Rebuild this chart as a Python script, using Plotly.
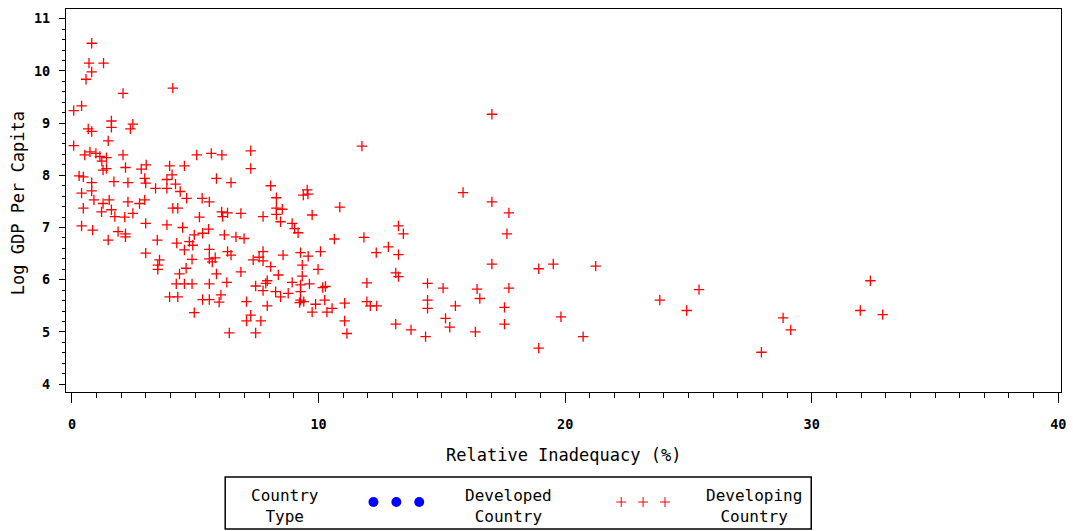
import plotly.graph_objects as go

# ---- data ----
developing_x = [
    0.80, 0.69, 1.28, 0.80, 0.57, 2.07, 4.09, 0.39, 0.07, 1.60,
    2.47, 0.66, 0.80, 1.60, 2.37, 1.47, 0.07, 11.76, 17.03, 0.52,
    0.73, 0.97, 1.13, 1.40, 2.07, 5.06, 5.65, 6.08, 7.25, 1.26,
    1.40, 2.17, 2.81, 3.01, 3.96, 4.56, 7.25, 1.21, 0.29, 0.46,
    0.80, 1.70, 2.27, 2.95, 2.99, 3.39, 3.85, 4.06, 4.20, 4.39,
    4.65, 5.28, 5.57, 5.86, 6.45, 3.85, 0.39, 0.80, 15.86, 8.06,
    8.29, 9.54, 9.38, 9.57, 0.89, 1.26, 1.51, 2.27, 2.74, 2.95,
    0.46, 1.20, 1.60, 1.74, 2.14, 2.47, 4.09, 4.29, 5.17, 6.07,
    6.11, 6.31, 6.85, 17.03, 17.72, 10.86, 7.75, 8.29, 8.53, 8.29,
    8.46, 8.93, 9.03, 9.17, 9.74, 0.39, 0.84, 1.87, 2.17, 2.17,
    2.99, 3.85, 4.49, 5.54, 13.24, 1.47, 3.46, 4.25, 4.76, 4.90,
    4.56, 4.96, 5.30, 5.57, 6.18, 6.65, 6.98, 13.44, 17.64, 10.64,
    11.84, 12.83, 12.34, 13.24, 2.99, 7.75, 7.35, 7.59, 7.75, 8.06,
    8.56, 9.27, 9.58, 10.08, 6.31, 6.45, 4.87, 3.55, 5.57, 5.69,
    5.81, 3.48, 3.48, 4.63, 4.36, 5.86, 6.85, 9.34, 9.98, 8.37,
    9.34, 13.13, 13.24, 17.03, 18.93, 19.52, 21.24, 4.23, 4.56, 4.87,
    5.57, 6.28, 7.45, 7.92, 7.86, 7.75, 8.93, 9.27, 9.63, 10.17,
    10.28, 11.96, 14.42, 15.05, 16.43, 16.54, 17.72, 25.43, 32.38, 8.26,
    8.46, 8.77, 9.27, 3.96, 4.29, 5.30, 5.57, 6.04, 5.97, 7.08,
    9.27, 9.40, 9.23, 9.88, 10.25, 7.92, 11.06, 11.96, 12.10, 12.36,
    14.42, 14.42, 15.55, 17.54, 23.84, 24.93, 31.97, 32.88, 28.84, 19.83,
    15.15, 15.32, 17.54, 16.36, 14.34, 18.93, 20.73, 29.15, 27.96, 4.96,
    7.25, 7.08, 7.66, 9.74, 10.34, 10.55, 11.06, 6.38, 7.45, 11.15,
    13.13, 13.75,
]
developing_y = [
    10.53, 10.15, 10.15, 9.98, 9.84, 9.57, 9.67, 9.33, 9.24, 9.04,
    8.98, 8.89, 8.84, 8.92, 8.89, 8.66, 8.57, 8.56, 9.17, 8.39,
    8.45, 8.42, 8.36, 8.34, 8.39, 8.39, 8.42, 8.39, 8.47, 8.10,
    8.13, 8.15, 8.12, 8.20, 8.18, 8.18, 8.13, 8.27, 7.99, 7.97,
    7.86, 7.88, 7.86, 7.94, 7.85, 7.75, 7.92, 8.01, 7.83, 7.69,
    7.56, 7.56, 7.49, 7.94, 7.86, 7.75, 7.66, 7.70, 7.67, 7.80,
    7.57, 7.72, 7.62, 7.64, 7.53, 7.46, 7.53, 7.49, 7.46, 7.53,
    7.37, 7.30, 7.34, 7.21, 7.20, 7.27, 7.37, 7.37, 7.20, 7.30,
    7.21, 7.28, 7.27, 7.49, 7.28, 7.39, 7.21, 7.37, 7.35, 7.25,
    7.11, 7.08, 6.98, 6.90, 7.24, 7.03, 6.95, 6.92, 6.88, 6.82,
    7.08, 7.05, 7.00, 6.97, 7.03, 6.76, 6.76, 6.70, 6.73, 6.66,
    6.57, 6.86, 6.89, 6.58, 6.86, 6.82, 6.79, 6.88, 6.88, 6.78,
    6.81, 6.63, 6.52, 6.48, 6.51, 6.54, 6.38, 6.43, 6.36, 6.25,
    6.47, 6.52, 6.45, 6.54, 6.54, 6.47, 6.39, 6.38, 6.40, 6.34,
    6.42, 6.28, 6.20, 6.22, 6.11, 6.11, 6.15, 6.28, 6.20, 6.09,
    6.07, 6.13, 6.06, 6.30, 6.21, 6.30, 6.26, 5.92, 5.92, 5.92,
    5.92, 5.95, 5.88, 5.98, 5.93, 5.79, 5.95, 5.90, 5.92, 5.85,
    5.87, 5.94, 5.93, 5.84, 5.82, 5.64, 5.84, 5.81, 5.98, 5.77,
    5.67, 5.74, 5.77, 5.67, 5.67, 5.62, 5.62, 5.71, 5.57, 5.58,
    5.61, 5.58, 5.56, 5.53, 5.61, 5.50, 5.55, 5.58, 5.50, 5.50,
    5.61, 5.45, 5.50, 5.47, 5.61, 5.41, 5.41, 5.33, 5.27, 5.29,
    5.26, 5.09, 5.15, 5.00, 4.91, 4.69, 4.91, 5.04, 4.61, 5.37,
    5.32, 5.21, 5.21, 5.38, 5.38, 5.45, 5.21, 4.98, 4.98, 4.97,
    5.15, 5.04,
]
developed_x = []
developed_y = []

x_ticks = [0, 10, 20, 30, 40]
y_ticks = [4, 5, 6, 7, 8, 9, 10, 11]
legend_title = ["Country", "Type"]
legend_labels = [["Developed", "Country"], ["Developing", "Country"]]

# ---- layout geometry (pixels of the 1073x531 canvas) ----
W, H = 1073, 531
L, R, T, B = 66, 1066, 9, 392
MONO = "DejaVu Sans Mono"


def px(x):
    return (x - L) / (R - L)


def py(y):
    return (B - y) / (B - T)


fig = go.Figure()
fig.add_trace(go.Scatter(
    x=developed_x, y=developed_y, mode="markers", name="Developed Country",
    marker=dict(symbol="circle", color="#0000FF", size=9), showlegend=False,
))
fig.add_trace(go.Scatter(
    x=developing_x, y=developing_y, mode="markers", name="Developing Country",
    marker=dict(symbol="cross-thin", size=7.4,
                line=dict(color="#FF0000", width=1.3)),
    showlegend=False, hoverinfo="x+y",
))

axis_common = dict(
    showline=True, linecolor="black", linewidth=1.2, mirror=True,
    showgrid=False, zeroline=False, ticks="outside", tickcolor="black",
    tickfont=dict(family=MONO, size=13.5, color="black", weight="bold"),
)
fig.update_xaxes(
    range=[-0.242, 40.11], tickvals=x_ticks, ticklen=10, tickwidth=1,
    minor=dict(dtick=1, ticklen=5, tickcolor="black", ticks="outside", tickwidth=1),
    ticklabelstandoff=10, **axis_common,
)
fig.update_yaxes(
    range=[3.849, 11.186], tickvals=y_ticks, ticklen=6, tickwidth=1,
    minor=dict(dtick=0.2, ticklen=3, tickcolor="black", ticks="outside", tickwidth=1),
    ticklabelstandoff=6, **axis_common,
)

annotations = [
    dict(text="Log GDP Per Capita", x=px(18), y=py(203), textangle=-90,
         font=dict(family=MONO, size=17, color="black")),
    dict(text="Relative Inadequacy (%)", x=px(566), y=py(455),
         font=dict(family=MONO, size=17, color="black")),
]
leg_font = dict(family=MONO, size=16, color="black")
annotations.append(dict(text="<br>".join(legend_title), x=px(286), y=py(505.5), font=leg_font))
for cx, lines in zip([511, 757], legend_labels):
    annotations.append(dict(text="<br>".join(lines), x=px(cx), y=py(505.5), font=leg_font))
for a in annotations:
    a.update(xref="paper", yref="paper", showarrow=False, xanchor="center", yanchor="middle")

shapes = [dict(type="rect", xref="paper", yref="paper",
               x0=px(226), x1=px(815), y0=py(477), y1=py(529),
               line=dict(color="black", width=1.5), fillcolor="rgba(0,0,0,0)")]
for cx in [375, 398, 421]:
    shapes.append(dict(type="circle", xref="paper", yref="paper",
                       x0=px(cx - 5), x1=px(cx + 5), y0=py(497), y1=py(507),
                       fillcolor="#0000FF", line=dict(color="#0000FF", width=0)))
for cx in [624, 646, 668]:
    shapes.append(dict(type="line", xref="paper", yref="paper",
                       x0=px(cx - 5), x1=px(cx + 5), y0=py(502), y1=py(502),
                       line=dict(color="#FF0000", width=1)))
    shapes.append(dict(type="line", xref="paper", yref="paper",
                       x0=px(cx), x1=px(cx), y0=py(497), y1=py(507),
                       line=dict(color="#FF0000", width=1)))

fig.update_layout(
    width=W, height=H, margin=dict(l=L, r=W - R, t=T, b=H - B),
    paper_bgcolor="white", plot_bgcolor="white",
    annotations=annotations, shapes=shapes, showlegend=False,
)

fig.write_html("out.html")
